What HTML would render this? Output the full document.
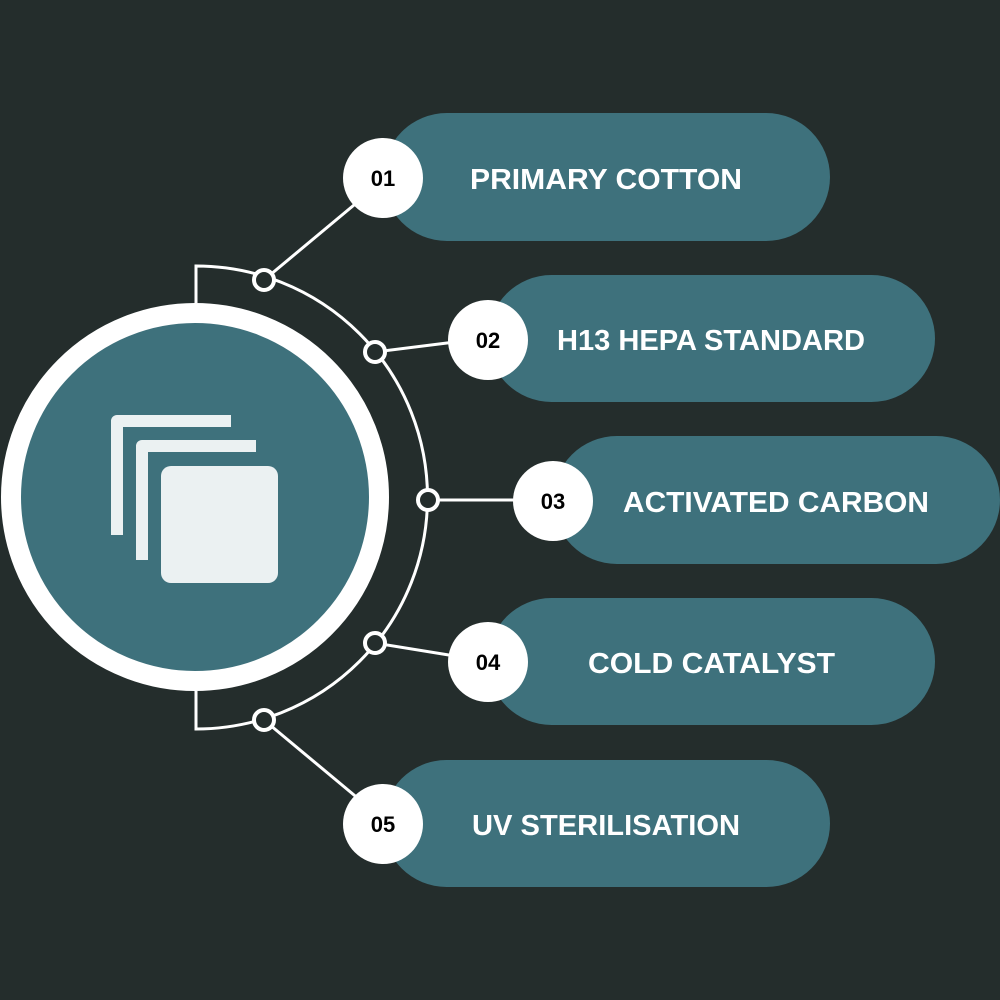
<!DOCTYPE html>
<html><head><meta charset="utf-8"><style>
html,body{margin:0;padding:0;background:#242d2c;}
svg{display:block;}
</style></head><body>
<svg width="1000" height="1000" viewBox="0 0 1000 1000" xmlns="http://www.w3.org/2000/svg">
<rect width="1000" height="1000" fill="#242d2c"/>
<!-- arc and brackets -->
<path d="M196 303 V266 A231 231 0 0 1 196 729 V691" fill="none" stroke="#fff" stroke-width="3"/>
<!-- connectors -->
<g stroke="#fff" stroke-width="3">
<line x1="264" y1="280" x2="360" y2="200"/>
<line x1="375" y1="352" x2="455" y2="342"/>
<line x1="428" y1="500" x2="520" y2="500"/>
<line x1="375" y1="643" x2="455" y2="656"/>
<line x1="264" y1="720" x2="360" y2="800"/>
</g>
<!-- main circle -->
<circle cx="195" cy="497" r="184" fill="#3e717c" stroke="#fff" stroke-width="20"/>
<!-- icon -->
<g fill="#ebf1f2">
<path d="M111 535 V421 a6 6 0 0 1 6 -6 H231 V427 H123 V535 Z"/>
<path d="M136 560 V446 a6 6 0 0 1 6 -6 H256 V452 H148 V560 Z"/>
<rect x="161" y="466" width="117" height="117" rx="10"/>
</g>
<!-- pills -->
<g fill="#3e717c">
<rect x="383" y="113" width="447" height="128" rx="64"/>
<rect x="488" y="275" width="447" height="127" rx="63.5"/>
<rect x="553" y="436" width="447" height="128" rx="64"/>
<rect x="488" y="598" width="447" height="127" rx="63.5"/>
<rect x="383" y="760" width="447" height="127" rx="63.5"/>
</g>
<!-- number circles -->
<g fill="#fff">
<circle cx="383" cy="178" r="40"/>
<circle cx="488" cy="340" r="40"/>
<circle cx="553" cy="501" r="40"/>
<circle cx="488" cy="662" r="40"/>
<circle cx="383" cy="824" r="40"/>
</g>
<!-- dots -->
<g fill="#242d2c" stroke="#fff" stroke-width="4">
<circle cx="264" cy="280" r="10"/>
<circle cx="375" cy="352" r="10"/>
<circle cx="428" cy="500" r="10"/>
<circle cx="375" cy="643" r="10"/>
<circle cx="264" cy="720" r="10"/>
</g>
<g font-family="Liberation Sans, sans-serif" font-weight="bold" font-size="22" fill="#000" text-anchor="middle">
<text x="383" y="186">01</text>
<text x="488" y="348">02</text>
<text x="553" y="509">03</text>
<text x="488" y="670">04</text>
<text x="383" y="832">05</text>
</g>
<g font-family="Liberation Sans, sans-serif" font-weight="bold" font-size="29" fill="#fff" lengthAdjust="spacingAndGlyphs">
<text x="470" y="189" textLength="272" lengthAdjust="spacingAndGlyphs">PRIMARY COTTON</text>
<text x="557" y="350" textLength="308" lengthAdjust="spacingAndGlyphs">H13 HEPA STANDARD</text>
<text x="623" y="512" textLength="306" lengthAdjust="spacingAndGlyphs">ACTIVATED CARBON</text>
<text x="588" y="673" textLength="247" lengthAdjust="spacingAndGlyphs">COLD CATALYST</text>
<text x="472" y="835" textLength="268" lengthAdjust="spacingAndGlyphs">UV STERILISATION</text>
</g>
</svg>
</body></html>
